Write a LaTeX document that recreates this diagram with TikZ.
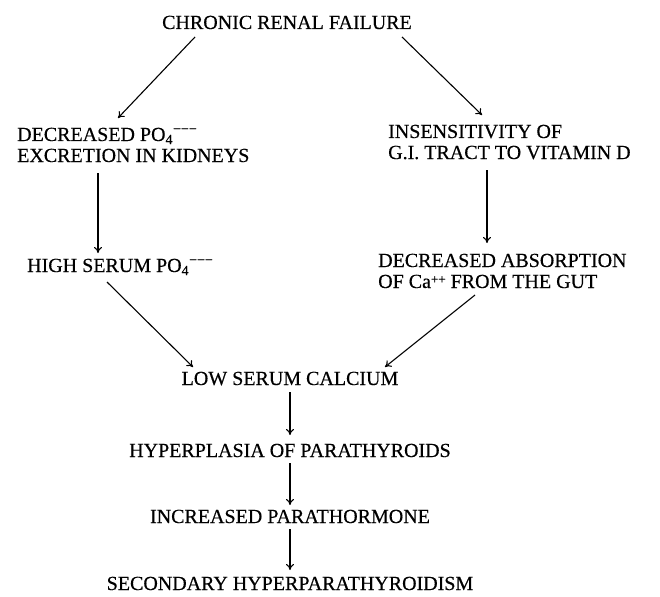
\documentclass[tikz,border=0pt]{standalone}
\usepackage{fontspec}
\setmainfont{Liberation Serif}[FakeBold=0.4]
\usetikzlibrary{arrows.meta}
\newcommand{\phos}{PO\textsubscript{4}\textsuperscript{−−−}}
\newcommand{\calc}{Ca\raisebox{0.22em}{\fontsize{13}{13}\selectfont ++}}
\begin{document}
\begin{tikzpicture}[x=1pt,y=-1pt,
  lbl/.style={inner sep=0pt,font=\fontsize{20}{21}\selectfont},
  two/.style={lbl,align=left,anchor=base west},
  arr/.style={line width=1.1pt,-{To[length=6pt,width=8pt]}}]
\useasboundingbox[fill=white] (0,0) rectangle (660,596);
% texts (two-line nodes are placed by the baseline of their last line)
\node[lbl,anchor=base] (crf) at (287,29) {CHRONIC RENAL FAILURE};
\node[two] (dec) at (17,162) {DECREASED \phos\\EXCRETION IN KIDNEYS};
\node[two] (ins) at (388,159) {INSENSITIVITY OF\\G.I. TRACT TO VITAMIN D};
\node[lbl,anchor=base west] (high) at (27,272) {HIGH SERUM \phos};
\node[two] (abs) at (378,288) {DECREASED ABSORPTION\\OF \calc{} FROM THE GUT};
\node[lbl,anchor=base] (low) at (290,385) {LOW SERUM CALCIUM};
\node[lbl,anchor=base] (hyp) at (290,457) {HYPERPLASIA OF PARATHYROIDS};
\node[lbl,anchor=base] (inc) at (290,523) {INCREASED PARATHORMONE};
\node[lbl,anchor=base] (sec) at (290,590) {SECONDARY HYPERPARATHYROIDISM};
% connector end points
\coordinate (a1s) at (195,37);  \coordinate (a1e) at (118,118);
\coordinate (a2s) at (402,37);  \coordinate (a2e) at (482,115);
\coordinate (a3s) at (98,173);  \coordinate (a3e) at (98,253);
\coordinate (a4s) at (487,170); \coordinate (a4e) at (487,243);
\coordinate (a5s) at (107,282); \coordinate (a5e) at (193,367);
\coordinate (a6s) at (475,295); \coordinate (a6e) at (385,367);
\coordinate (a7s) at (290,392); \coordinate (a7e) at (290,435);
\coordinate (a8s) at (290,463); \coordinate (a8e) at (290,505);
\coordinate (a9s) at (290,529); \coordinate (a9e) at (290,570);
\draw[arr] (a1s) -- (a1e);
\draw[arr] (a2s) -- (a2e);
\draw[arr] (a3s) -- (a3e);
\draw[arr] (a4s) -- (a4e);
\draw[arr] (a5s) -- (a5e);
\draw[arr] (a6s) -- (a6e);
\draw[arr] (a7s) -- (a7e);
\draw[arr] (a8s) -- (a8e);
\draw[arr] (a9s) -- (a9e);
\end{tikzpicture}
\end{document}
